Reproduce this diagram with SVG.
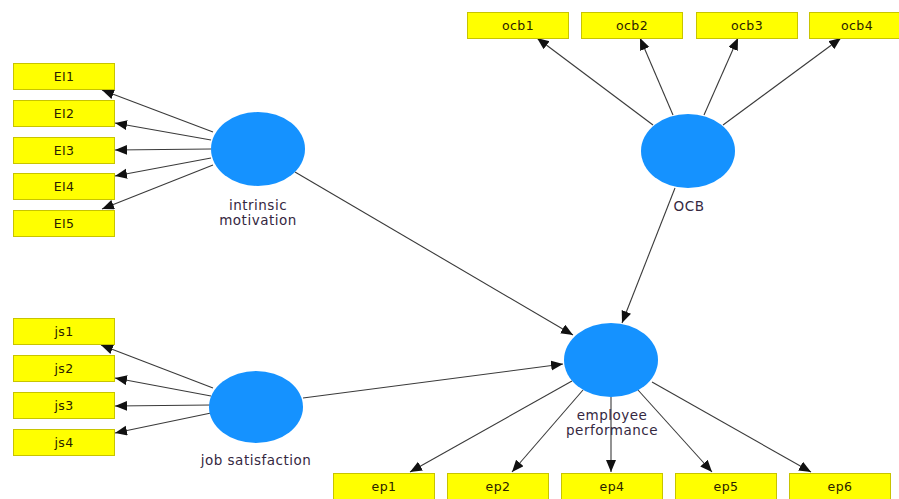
<svg xmlns="http://www.w3.org/2000/svg" width="899" height="499" viewBox="0 0 899 499">
<style>
.box{fill:#ffff00;stroke:#c8c400;stroke-width:1}
.bt{font-family:"DejaVu Sans",Verdana,sans-serif;font-size:12.5px;fill:#2a2200;text-anchor:middle;letter-spacing:0.4px}
.lv{fill:#1592ff}
.lt{font-family:"DejaVu Sans",Verdana,sans-serif;font-size:13.5px;fill:#35283f;text-anchor:middle;letter-spacing:0.5px}
.c{stroke:#3a3a3a;stroke-width:1.1;fill:none;marker-end:url(#ah)}
</style>
<defs>
<marker id="ah" markerUnits="userSpaceOnUse" markerWidth="13" markerHeight="11" refX="12" refY="5" orient="auto">
<path d="M0,0 L12,5 L0,10 z" fill="#111"/>
</marker>
</defs>
<rect width="899" height="499" fill="#fff"/>
<g id="connectors">
<line class="c" x1="213" y1="132" x2="102" y2="90"/>
<line class="c" x1="211" y1="140" x2="115" y2="123"/>
<line class="c" x1="211" y1="149" x2="115" y2="150"/>
<line class="c" x1="211" y1="158" x2="115" y2="176"/>
<line class="c" x1="213" y1="165" x2="102" y2="209"/>
<line class="c" x1="213" y1="388" x2="101" y2="345"/>
<line class="c" x1="211" y1="396" x2="115" y2="378"/>
<line class="c" x1="211" y1="405" x2="115" y2="406"/>
<line class="c" x1="211" y1="413" x2="115" y2="433"/>
<line class="c" x1="653" y1="125" x2="537" y2="38"/>
<line class="c" x1="673" y1="115" x2="640" y2="38"/>
<line class="c" x1="704" y1="115" x2="738" y2="38"/>
<line class="c" x1="723" y1="125" x2="841" y2="38"/>
<line class="c" x1="295" y1="172" x2="573" y2="335"/>
<line class="c" x1="675" y1="188" x2="622" y2="323"/>
<line class="c" x1="303" y1="398" x2="563" y2="364"/>
<line class="c" x1="572" y1="381" x2="410" y2="472"/>
<line class="c" x1="583" y1="390" x2="512" y2="472"/>
<line class="c" x1="611" y1="397" x2="611" y2="472"/>
<line class="c" x1="638" y1="390" x2="712" y2="472"/>
<line class="c" x1="652" y1="382" x2="811" y2="472"/>
</g>
<g id="EI1"><rect class="box" x="13.5" y="63.5" width="101" height="26"/><text class="bt" x="64" y="81">EI1</text></g>
<g id="EI2"><rect class="box" x="13.5" y="100.5" width="101" height="26"/><text class="bt" x="64" y="118">EI2</text></g>
<g id="EI3"><rect class="box" x="13.5" y="137.5" width="101" height="26"/><text class="bt" x="64" y="155">EI3</text></g>
<g id="EI4"><rect class="box" x="13.5" y="173.5" width="101" height="26"/><text class="bt" x="64" y="191">EI4</text></g>
<g id="EI5"><rect class="box" x="13.5" y="210.5" width="101" height="26"/><text class="bt" x="64" y="228">EI5</text></g>
<g id="js1"><rect class="box" x="13.5" y="318.5" width="101" height="26"/><text class="bt" x="64" y="336">js1</text></g>
<g id="js2"><rect class="box" x="13.5" y="355.5" width="101" height="26"/><text class="bt" x="64" y="373">js2</text></g>
<g id="js3"><rect class="box" x="13.5" y="392.5" width="101" height="26"/><text class="bt" x="64" y="410">js3</text></g>
<g id="js4"><rect class="box" x="13.5" y="429.5" width="101" height="26"/><text class="bt" x="64" y="447">js4</text></g>
<g id="ocb1"><rect class="box" x="467.5" y="12.5" width="101" height="26"/><text class="bt" x="518" y="30">ocb1</text></g>
<g id="ocb2"><rect class="box" x="581.5" y="12.5" width="101" height="26"/><text class="bt" x="632" y="30">ocb2</text></g>
<g id="ocb3"><rect class="box" x="696.5" y="12.5" width="101" height="26"/><text class="bt" x="747" y="30">ocb3</text></g>
<g id="ocb4"><rect class="box" x="809.5" y="12.5" width="101" height="26"/><text class="bt" x="857" y="30">ocb4</text></g>
<g id="ep1"><rect class="box" x="333.5" y="473.5" width="101" height="26"/><text class="bt" x="384" y="491">ep1</text></g>
<g id="ep2"><rect class="box" x="447.5" y="473.5" width="101" height="26"/><text class="bt" x="498" y="491">ep2</text></g>
<g id="ep4"><rect class="box" x="561.5" y="473.5" width="101" height="26"/><text class="bt" x="612" y="491">ep4</text></g>
<g id="ep5"><rect class="box" x="675.5" y="473.5" width="101" height="26"/><text class="bt" x="726" y="491">ep5</text></g>
<g id="ep6"><rect class="box" x="789.5" y="473.5" width="101" height="26"/><text class="bt" x="840" y="491">ep6</text></g>
<g id="intrinsic_motivation"><ellipse class="lv" cx="258" cy="149" rx="47" ry="37"/><text class="lt" x="258" y="210">intrinsic</text><text class="lt" x="258" y="225">motivation</text></g>
<g id="job_satisfaction"><ellipse class="lv" cx="256" cy="407" rx="47" ry="36"/><text class="lt" x="256" y="465">job satisfaction</text></g>
<g id="OCB"><ellipse class="lv" cx="688" cy="151" rx="47" ry="37"/><text class="lt" x="689" y="211">OCB</text></g>
<g id="employee_performance"><ellipse class="lv" cx="611" cy="360" rx="47" ry="37"/><text class="lt" x="612" y="420">employee</text><text class="lt" x="612" y="435">performance</text></g>
</svg>
